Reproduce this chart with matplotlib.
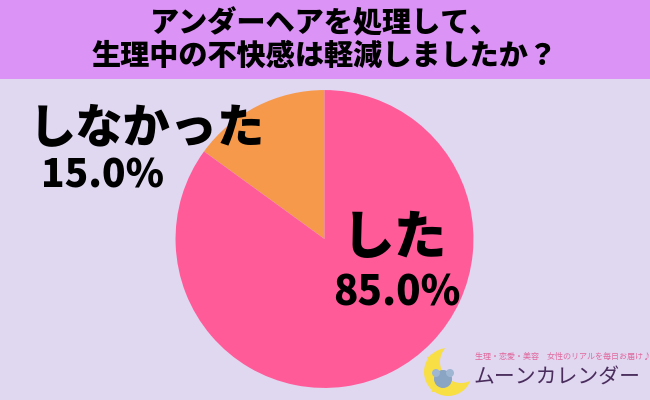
import matplotlib
matplotlib.use('Agg')
import matplotlib.pyplot as plt
from matplotlib.patches import Rectangle, Circle

plt.rcParams['font.family'] = ['Noto Sans CJK JP', 'DejaVu Sans']

# data
labels = ['しなかった', 'した']
values = [15.0, 85.0]
colors = ['#f7994b', '#ff5b99']
title = 'アンダーヘアを処理して、\n生理中の不快感は軽減しましたか？'

bg = '#e0d7f1'
fig = plt.figure(figsize=(6.5, 4), dpi=100, facecolor=bg)

# background / banner (pixel coords, y downwards)
back = fig.add_axes([0, 0, 1, 1], zorder=0)
back.set_xlim(0, 650)
back.set_ylim(400, 0)
back.axis('off')
back.add_patch(Rectangle((0, 0), 650, 79, color='#dc93f6', lw=0))

# pie, center (324.5, 239) px, radius ~149 px
cx, cy, r = 324.5, 239, 150
ax = fig.add_axes([(cx - r) / 650, (400 - cy - r) / 400, 2 * r / 650, 2 * r / 400], zorder=1)
ax.pie(values, colors=colors, startangle=90, counterclock=True, radius=0.993,
       wedgeprops=dict(linewidth=0))
ax.set_xlim(-1, 1)
ax.set_ylim(-1, 1)
ax.axis('off')

# overlay for texts and logo
ov = fig.add_axes([0, 0, 1, 1], zorder=2)
ov.set_xlim(0, 650)
ov.set_ylim(400, 0)
ov.axis('off')
ov.patch.set_alpha(0)

ov.text(325, 40, title, ha='center', va='center', fontsize=21, fontweight='heavy',
        linespacing=1.15, color='black')

ov.text(147, 128, labels[0], ha='center', va='center', fontsize=34, fontweight='heavy')
ov.text(102, 176, f'{values[0]:.1f}%', ha='center', va='center', fontsize=28, fontweight='heavy')
ov.text(395, 238, labels[1], ha='center', va='center', fontsize=38, fontweight='heavy')
ov.text(397, 294, f'{values[1]:.1f}%', ha='center', va='center', fontsize=29, fontweight='heavy')

# logo
ov.add_patch(Circle((448, 372), 24, color='#f7df45', lw=0))
ov.add_patch(Circle((461, 362), 21, color=bg, lw=0))
ov.add_patch(Circle((443, 379), 9, color='#8aa4c4', lw=0))
ov.add_patch(Circle((436, 373), 4, color='#9fb6d2', lw=0))
ov.add_patch(Circle((450, 373), 4, color='#9fb6d2', lw=0))
ov.plot([431, 434], [358, 388], ls='none', marker='*', ms=6, color='#f7df45')
ov.text(475, 356, '生理・恋愛・美容　女性のリアルを毎日お届け♪', ha='left', va='center',
        fontsize=5.8, color='#e0689c')
ov.text(473, 378, 'ムーンカレンダー', ha='left', va='center', fontsize=15, color='#4a2d5c')

fig.savefig('out.png', dpi=100, facecolor=bg)
